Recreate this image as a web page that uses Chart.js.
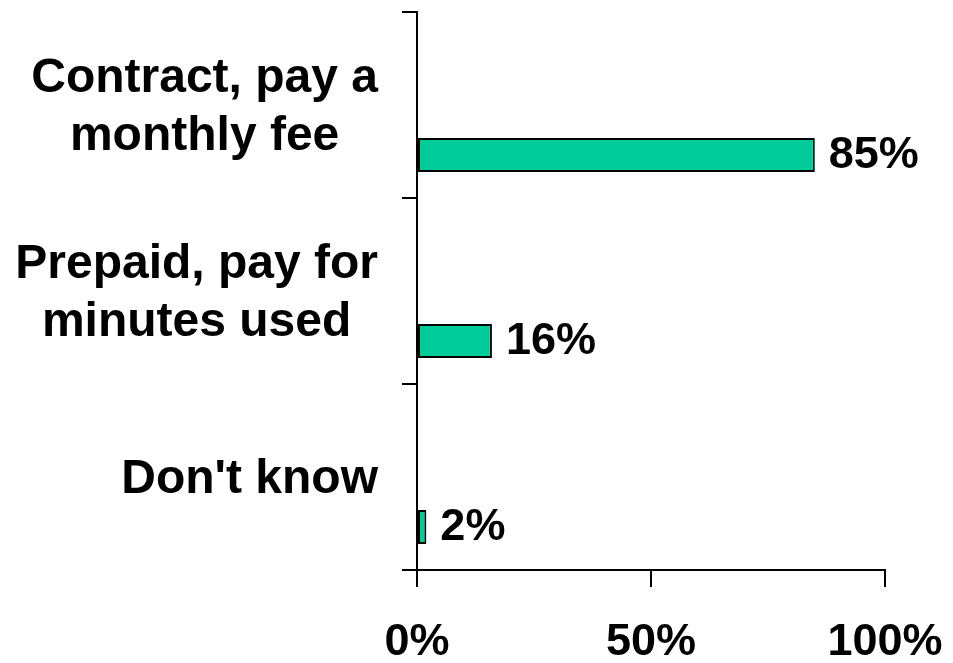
<!DOCTYPE html>
<html>
<head>
<meta charset="utf-8">
<script src="https://cdn.jsdelivr.net/npm/chart.js@4"></script>
<style>
  html, body { margin: 0; padding: 0; background: #fff; }
  #wrap { width: 953px; height: 663px; position: relative; }
</style>
</head>
<body>
<div id="wrap"><canvas id="planChart"></canvas></div>
<script>
// Payment plan survey data
var categories = [
    ['Contract, pay a', 'monthly fee'],
    ['Prepaid, pay for', 'minutes used'],
    ["Don't know"]
];
var shares = [85, 16, 2];
var xTicks = [0, 50, 100];

var barColor = '#00CC99';
var labelFont = { family: '"Liberation Sans", Arial, sans-serif', size: 48, weight: 'bold' };
var valueFont = { family: '"Liberation Sans", Arial, sans-serif', size: 45, weight: 'bold' };

// Category names drawn as centred text blocks, right edge against the axis ticks
var categoryLabels = {
    id: 'categoryLabels',
    afterDraw: function (chart) {
        var ctx = chart.ctx;
        var yScale = chart.scales.y;
        var rightEdge = yScale.right - 39;
        var lineHeight = 58;
        ctx.save();
        ctx.font = 'bold ' + labelFont.size + 'px ' + labelFont.family;
        ctx.fillStyle = '#000';
        ctx.textAlign = 'center';
        ctx.textBaseline = 'middle';
        categories.forEach(function (lines, i) {
            var widest = 0;
            lines.forEach(function (l) { widest = Math.max(widest, ctx.measureText(l).width); });
            var cx = rightEdge - widest / 2;
            var y0 = yScale.getPixelForTick(i) + 3 - (lines.length - 1) * lineHeight / 2;
            lines.forEach(function (l, j) {
                ctx.fillText(l, cx, y0 + j * lineHeight);
            });
        });
        ctx.restore();
    }
};

// Percent value next to the end of each bar
var valueLabels = {
    id: 'valueLabels',
    afterDatasetsDraw: function (chart) {
        var ctx = chart.ctx;
        var meta = chart.getDatasetMeta(2);
        ctx.save();
        ctx.font = 'bold ' + valueFont.size + 'px ' + valueFont.family;
        ctx.fillStyle = '#000';
        ctx.textAlign = 'left';
        ctx.textBaseline = 'middle';
        meta.data.forEach(function (bar, i) {
            ctx.fillText(shares[i] + '%', bar.x + 14, bar.y + 1);
        });
        ctx.restore();
    }
};

new Chart(document.getElementById('planChart'), {
    type: 'bar',
    data: {
        labels: categories,
        datasets: [
            // two empty series keep the bars low in each band
            { label: '', data: [null, null, null] },
            { label: '', data: [null, null, null] },
            {
                label: 'Share',
                data: shares,
                backgroundColor: barColor,
                borderColor: '#000',
                borderWidth: 2,
                borderSkipped: false
            }
        ]
    },
    options: {
        indexAxis: 'y',
        responsive: true,
        maintainAspectRatio: false,
        animation: false,
        categoryPercentage: 0.806,
        barPercentage: 0.68,
        layout: { padding: { top: 12, right: 68, left: 0, bottom: 0 } },
        plugins: {
            legend: { display: false },
            tooltip: { enabled: false }
        },
        scales: {
            x: {
                min: 0,
                max: 100,
                afterBuildTicks: function (scale) {
                    scale.ticks = xTicks.map(function (v) { return { value: v }; });
                },
                afterFit: function (scale) {
                    scale.height = 93;
                    scale.paddingLeft = 0;
                    scale.paddingRight = 0;
                },
                border: { display: true, color: '#000', width: 2 },
                grid: { drawOnChartArea: false, tickLength: 17, color: '#000', lineWidth: 2 },
                ticks: {
                    padding: 29,
                    color: '#000',
                    font: valueFont,
                    maxRotation: 0,
                    callback: function (value) { return value + '%'; }
                }
            },
            y: {
                offset: true,
                afterFit: function (scale) { scale.width = 417; },
                border: { display: true, color: '#000', width: 2 },
                grid: { offset: true, drawOnChartArea: false, tickLength: 15, color: '#000', lineWidth: 2 },
                ticks: { display: false }
            }
        }
    },
    plugins: [categoryLabels, valueLabels]
});
</script>
</body>
</html>
